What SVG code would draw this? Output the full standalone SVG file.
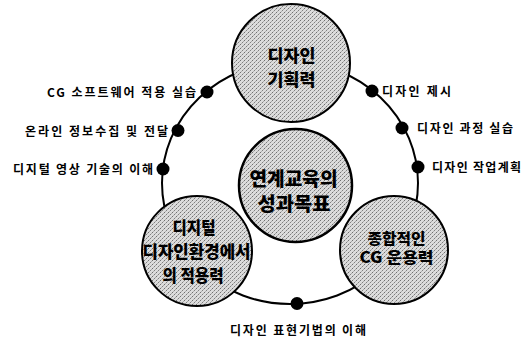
<svg xmlns="http://www.w3.org/2000/svg" width="524" height="338" viewBox="0 0 524 338">
<style>
.bubble{fill:url(#ht);stroke:#000;stroke-width:2}
.ring{fill:none;stroke:#000;stroke-width:2}
.dot{fill:#000}
.lbl{font-family:"Noto Sans CJK KR","Noto Sans",sans-serif;font-size:12px;font-weight:700;fill:#000}
.ct{font-family:"Noto Sans CJK KR","Noto Sans",sans-serif;font-weight:900;fill:#000;text-anchor:middle}
</style>
<defs>
<pattern id="ht" width="4" height="4" patternUnits="userSpaceOnUse">
<rect width="4" height="4" fill="#dcdcdc"/>
<rect x="0" y="0" width="1" height="1" fill="#707070"/>
<rect x="2" y="2" width="1" height="1" fill="#808080"/>
<rect x="1" y="3" width="1" height="1" fill="#b0b0b0"/>
<rect x="3" y="1" width="1" height="1" fill="#a8a8a8"/>
</pattern>
</defs>
<rect width="524" height="338" fill="#fff"/>
<g id="connectors">
<ellipse class="ring" cx="290" cy="183" rx="128" ry="121"/>
</g>
<g id="node-plan">
<circle class="bubble" cx="291" cy="63" r="59"/>
<text class="ct" font-size="17.5" x="291.5" y="62" textLength="48" lengthAdjust="spacingAndGlyphs">디자인</text>
<text class="ct" font-size="17.5" x="291.5" y="86" textLength="48" lengthAdjust="spacingAndGlyphs">기획력</text>
</g>
<g id="node-goal">
<circle class="bubble" cx="295.5" cy="185.5" r="56.5" style="stroke-width:2.5"/>
<text class="ct" font-size="19" x="293.5" y="186" textLength="88" lengthAdjust="spacingAndGlyphs">연계교육의</text>
<text class="ct" font-size="19" x="294" y="210.5" textLength="73" lengthAdjust="spacingAndGlyphs">성과목표</text>
</g>
<g id="node-digital">
<circle class="bubble" cx="197" cy="251" r="55"/>
<text class="ct" font-size="17" x="194" y="233.5" textLength="43" lengthAdjust="spacingAndGlyphs">디지털</text>
<text class="ct" font-size="17" x="196.5" y="257.5" textLength="108" lengthAdjust="spacingAndGlyphs">디자인환경에서</text>
<text class="ct" font-size="17" x="193" y="281.5" textLength="61" lengthAdjust="spacingAndGlyphs">의 적용력</text>
</g>
<g id="node-cg">
<circle class="bubble" cx="394" cy="250" r="54"/>
<text class="ct" font-size="15" x="396.5" y="244" textLength="58" lengthAdjust="spacingAndGlyphs">종합적인</text>
<text class="ct" font-size="15" x="396.5" y="263" textLength="74" lengthAdjust="spacingAndGlyphs">CG 운용력</text>
</g>
<g id="item-cg-software">
<circle class="dot" cx="207" cy="92" r="6.5"/>
<text class="lbl" x="47" y="96.5" textLength="149" lengthAdjust="spacing">CG 소프트웨어 적용 실습</text>
</g>
<g id="item-online">
<circle class="dot" cx="178" cy="130.5" r="6.5"/>
<text class="lbl" x="25" y="135.5" textLength="143" lengthAdjust="spacing">온라인 정보수집 및 전달</text>
</g>
<g id="item-video">
<circle class="dot" cx="163" cy="169" r="6.5"/>
<text class="lbl" x="13" y="173.5" textLength="140" lengthAdjust="spacing">디지털 영상 기술의 이해</text>
</g>
<g id="item-present">
<circle class="dot" cx="372" cy="91" r="6.5"/>
<text class="lbl" x="382" y="95.5" textLength="69" lengthAdjust="spacing">디자인 제시</text>
</g>
<g id="item-process">
<circle class="dot" cx="402" cy="128" r="6.5"/>
<text class="lbl" x="417" y="132.5" textLength="96" lengthAdjust="spacing">디자인 과정 실습</text>
</g>
<g id="item-workplan">
<circle class="dot" cx="418" cy="167" r="6.5"/>
<text class="lbl" x="432" y="171.5" textLength="89" lengthAdjust="spacing">디자인 작업계획</text>
</g>
<g id="item-expression">
<circle class="dot" cx="297" cy="303.5" r="6.5"/>
<text class="lbl" x="230" y="334.5" textLength="136" lengthAdjust="spacing">디자인 표현기법의 이해</text>
</g>
</svg>
